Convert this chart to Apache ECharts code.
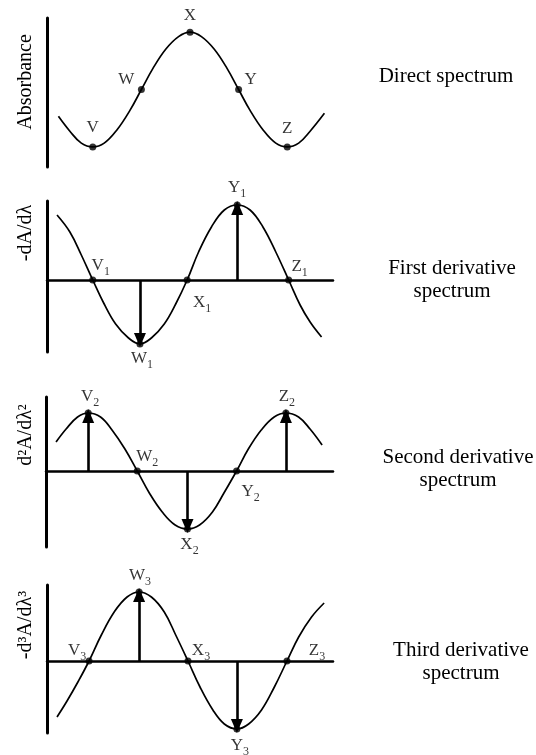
<!DOCTYPE html>
<html><head><meta charset="utf-8">
<script src="https://cdn.jsdelivr.net/npm/echarts@6/dist/echarts.min.js"></script>
<style>html,body{margin:0;padding:0;background:#fff}#c{width:536px;height:755px}</style>
</head><body><div id="c"></div>
<script>
// ---- Curve samples (x: wavelength units 0..100, y: signal units) ----
const directX = [4, 8, 12, 16, 20, 24.5, 29, 33, 37, 41.5, 46, 50, 54, 58.5, 63, 67, 71, 75.5, 80, 84, 88, 92, 97];
const directY = [34, 24, 16, 13.5, 16, 25, 38, 52, 66, 79, 87.5, 90.5, 87.5, 79, 66, 52, 38, 25, 16, 13.5, 16, 24, 36];

const firstX = [3.5, 8, 12, 16, 20, 24, 28.5, 32.5, 36.5, 41, 45, 49, 53, 57.5, 62, 66.5, 71, 75.5, 80, 84.5, 88.5, 92, 96];
const firstY = [65, 48, 25, 0, -24, -44, -58, -64, -58, -44, -24, 0, 28, 53, 70, 75, 70, 53, 28, 0, -25, -42, -57];

const secondX = [3.5, 7, 11, 14.7, 19, 23, 27.5, 31.8, 36, 40.5, 45, 49.3, 53.5, 58, 62, 66.4, 70.5, 75, 79.5, 83.6, 88, 92, 96.2];
const secondY = [29, 42, 54, 58, 54, 41, 22, 0, -22, -41, -54, -58, -54, -41, -22, 0, 22, 41, 54, 58, 54, 42, 26];

const thirdX = [3.5, 7, 11, 14.7, 19, 23.5, 28, 32.2, 36.5, 41, 45, 49.3, 53.5, 58, 62, 66.4, 70.5, 75, 79.5, 83.9, 88, 92.5, 96.9];
const thirdY = [-56, -40, -20, 0, 26, 49, 64, 69, 64, 49, 26, 0, -26, -49, -63, -68, -63, -49, -26, 0, 24, 44, 58];

// ---- Marked points ----
const pointNames = ['V', 'W', 'X', 'Y', 'Z'];
const directPtX = [16, 33, 50, 67, 84];
const directPtY = [13.5, 52, 90.5, 52, 13.5];
const firstPtX = [16, 32.5, 49, 66.5, 84.5];
const firstPtY = [0, -64, 0, 75, 0];
const secondPtX = [14.7, 31.8, 49.3, 66.4, 83.6];
const secondPtY = [58, 0, -58, 0, 58];
const thirdPtX = [14.7, 32.2, 49.3, 66.4, 83.9];
const thirdPtY = [0, 69, 0, -68, 0];

// ---- Arrows (from baseline 0 to tip) ----
const firstArrowX = [32.5, 66.5];
const firstArrowTip = [-60, 72];
const secondArrowX = [14.7, 49.3, 83.6];
const secondArrowTip = [55, -55, 55];
const thirdArrowX = [32.2, 66.4];
const thirdArrowTip = [66, -65];

// ---- Text ----
const axisTitles = ['Absorbance', '-dA/dλ', 'd²A/dλ²', '-d³A/dλ³'];
const panelTitles = ['Direct spectrum', 'First derivative\nspectrum', 'Second derivative\nspectrum', 'Third derivative\nspectrum'];
const subscripts = ['', '1', '2', '3'];

// ---- Styles / layout (not data) ----
const FONT = '"Liberation Serif", "Times New Roman", serif';
const grids = [
  {left: 47, top: 18, width: 286, height: 149},
  {left: 47, top: 201, width: 286, height: 151},
  {left: 46, top: 397, width: 287, height: 150},
  {left: 47, top: 585, width: 286, height: 148}
];
const yRanges = [[0, 100], [-72, 79], [-76, 74], [-72, 76]];
const labelOffsets = [
  [[0, -19], [-15, -10], [0, -17], [12, -10], [0, -18]],
  [[8, -14], [2, 15], [15, 23], [0, -17], [11, -13]],
  [[2, -16], [10, -14], [2, 16], [14, 21], [1, -16]],
  [[-12, -10], [1, -16], [13, -10], [3, 17], [30, -10]]
];
const axisTitlePos = [[26, 82], [26, 233], [26, 435], [26, 625]];
const panelTitlePos = [[446, 65], [452, 257], [458, 446], [461, 639]];

const curves = [[directX, directY], [firstX, firstY], [secondX, secondY], [thirdX, thirdY]];
const points = [[directPtX, directPtY], [firstPtX, firstPtY], [secondPtX, secondPtY], [thirdPtX, thirdPtY]];
const arrows = [[[], []], [firstArrowX, firstArrowTip], [secondArrowX, secondArrowTip], [thirdArrowX, thirdArrowTip]];

const xAxes = [], yAxes = [], series = [];
grids.forEach((g, i) => {
  xAxes.push({
    type: 'value', gridIndex: i, min: 0, max: 100,
    show: i > 0,
    axisLine: {show: i > 0, onZero: true, lineStyle: {color: '#000', width: 2.5}},
    axisTick: {show: false}, axisLabel: {show: false}, splitLine: {show: false}
  });
  yAxes.push({
    type: 'value', gridIndex: i, min: yRanges[i][0], max: yRanges[i][1],
    axisLine: {show: true, onZero: false, lineStyle: {color: '#000', width: 3}},
    axisTick: {show: false}, axisLabel: {show: false}, splitLine: {show: false}
  });
  series.push({
    type: 'line', xAxisIndex: i, yAxisIndex: i, smooth: 0.4, symbol: 'none',
    lineStyle: {color: '#000', width: 1.7},
    data: curves[i][0].map((x, k) => [x, curves[i][1][k]]),
    silent: true
  });
  const sub = subscripts[i];
  series.push({
    type: 'scatter', xAxisIndex: i, yAxisIndex: i, symbol: 'circle', symbolSize: 7,
    itemStyle: {color: '#000'}, silent: true, z: 5,
    data: points[i][0].map((x, k) => ({
      value: [x, points[i][1][k]], name: pointNames[k],
      label: {offset: labelOffsets[i][k]}
    })),
    label: {
      show: true, position: 'inside', align: 'center', verticalAlign: 'middle',
      color: '#000', textBorderWidth: 0,
      formatter: p => sub ? `{m|${p.name}}{s|${sub}}` : `{m|${p.name}}`,
      rich: {
        m: {fontFamily: FONT, fontSize: 17, color: '#000', textBorderWidth: 0},
        s: {fontFamily: FONT, fontSize: 12, color: '#000', textBorderWidth: 0, padding: [12, 0, 0, 0]}
      }
    },
    markLine: {
      silent: true, animation: false,
      symbol: ['none', 'triangle'], symbolSize: [12, 14],
      label: {show: false},
      lineStyle: {color: '#000', width: 2.6, type: 'solid'},
      data: arrows[i][0].map((x, k) => [{coord: [x, 0]}, {coord: [x, arrows[i][1][k]]}])
    }
  });
});

const titles = panelTitles.map((t, i) => ({
  text: t, left: panelTitlePos[i][0], top: panelTitlePos[i][1], textAlign: 'center', padding: 0,
  textStyle: {fontFamily: FONT, fontSize: 21, fontWeight: 'normal', color: '#000', lineHeight: 23}
}));

const graphics = axisTitles.map((t, i) => ({
  type: 'text', x: axisTitlePos[i][0], y: axisTitlePos[i][1], rotation: Math.PI / 2,
  style: {text: t, font: '20px ' + FONT, fill: '#000', textAlign: 'center', textVerticalAlign: 'middle'}
}));

const chart = echarts.init(document.getElementById('c'), null, {renderer: 'canvas'});
chart.setOption({
  animation: false,
  backgroundColor: '#fff',
  title: titles,
  grid: grids,
  xAxis: xAxes,
  yAxis: yAxes,
  series: series,
  graphic: graphics
});
</script>
</body></html>
